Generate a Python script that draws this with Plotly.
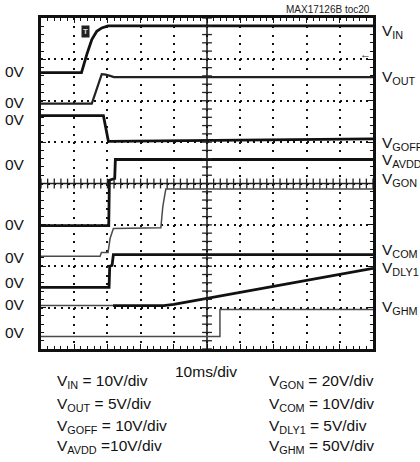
import numpy as np
import plotly.graph_objects as go

# Screen positions: time in ms (10 ms/div, 10 div), level in divisions (8 div)
vin_t = [0, 12.2, 13.8, 15.3, 16.8, 18.3, 20.2, 100]
vin_d = [6.68, 6.68, 7.12, 7.48, 7.68, 7.76, 7.81, 7.81]

vout_t = [0, 15.3, 18.3, 19.5, 20.8, 22, 100]
vout_d = [5.93, 5.93, 6.64, 6.63, 6.60, 6.57, 6.57]

vgoff_t = [0, 18.8, 20.3, 100]
vgoff_d = [5.64, 5.64, 5.02, 5.08]

vavdd_t = [0, 20.4, 20.6, 21.6, 22.2, 22.4, 100]
vavdd_d = [2.98, 2.98, 4.08, 4.10, 4.12, 4.58, 4.58]

vgon_t = [0, 17.8, 18.2, 20.2, 20.8, 21.8, 36.1, 36.7, 37.6, 100]
vgon_d = [2.24, 2.24, 2.33, 2.33, 2.67, 2.91, 2.93, 3.45, 3.87, 3.87]

vcom_t = [0, 20.5, 20.7, 21.4, 21.8, 100]
vcom_d = [1.49, 1.49, 2.00, 2.02, 2.28, 2.28]

vdly1_t = [0, 21.7, 37, 40, 100]
vdly1_d = [1.05, 1.05, 1.05, 1.08, 1.95]

vghm_t = [0, 53.9, 53.9, 100]
vghm_d = [0.30, 0.30, 0.955, 0.955]

right_labels = ["V<sub>IN</sub>", "V<sub>OUT</sub>", "V<sub>GOFF</sub>", "V<sub>AVDD</sub>",
                "V<sub>GON</sub>", "V<sub>COM</sub>", "V<sub>DLY1</sub>", "V<sub>GHM</sub>"]
right_label_y = [0.959, 0.820, 0.621, 0.569, 0.512, 0.298, 0.243, 0.125]

zero_label_y = [0.837, 0.745, 0.693, 0.556, 0.376, 0.276, 0.201, 0.134, 0.050]

scale_left = ["V<sub>IN</sub> = 10V/div", "V<sub>OUT</sub> = 5V/div",
              "V<sub>GOFF</sub> = 10V/div", "V<sub>AVDD</sub> =10V/div"]
scale_right = ["V<sub>GON</sub> = 20V/div", "V<sub>COM</sub> = 10V/div",
               "V<sub>DLY1</sub> = 5V/div", "V<sub>GHM</sub> = 50V/div"]
scale_rows_y = [-0.098, -0.169, -0.233, -0.296]

FONT = "Liberation Sans, Arial"

fig = go.Figure()

THICK = dict(color="#111111", width=2.8)
THIN = dict(color="#4a4a4a", width=1.5)

def add(t, d, line):
    fig.add_trace(go.Scatter(x=t, y=d, mode="lines", line=line, hoverinfo="skip"))

add(vghm_t, vghm_d, THIN)
add(vdly1_t[:2], vdly1_d[:2], THIN)
add(vdly1_t[1:], vdly1_d[1:], THICK)
add(vcom_t, vcom_d, THICK)
add(vgon_t, vgon_d, THIN)
add(vavdd_t, vavdd_d, THICK)
add(vgoff_t, vgoff_d, THICK)
add(vout_t, vout_d, dict(color="#222222", width=2.2))
add(vin_t, vin_d, THICK)

# centre cross-hair tick marks
cx = np.arange(0, 100.01, 2)
fig.add_trace(go.Scatter(x=cx, y=[4] * len(cx), mode="markers",
                         marker=dict(symbol="line-ns", size=7, line=dict(color="#222", width=1.3)),
                         hoverinfo="skip"))
cy = np.arange(0, 8.001, 0.2)
fig.add_trace(go.Scatter(x=[50] * len(cy), y=cy, mode="markers",
                         marker=dict(symbol="line-ew", size=7, line=dict(color="#222", width=1.3)),
                         hoverinfo="skip"))

fig.add_shape(type="line", x0=50, x1=50, y0=0, y1=8, line=dict(color="#222", width=1.6), layer="below")
fig.add_shape(type="line", x0=0, x1=100, y0=4, y1=4, line=dict(color="#222", width=1.6), layer="below")

ann = []
for txt, y in zip(right_labels, right_label_y):
    ann.append(dict(x=1.021, y=y, xref="paper", yref="paper", text=txt, showarrow=False,
                    xanchor="left", yanchor="middle", font=dict(family=FONT, size=15.5, color="#111")))
for y in zero_label_y:
    ann.append(dict(x=-0.042, y=y, xref="paper", yref="paper", text="0V", showarrow=False,
                    xanchor="right", yanchor="middle", font=dict(family=FONT, size=15.5, color="#111")))
for txt, y in zip(scale_left, scale_rows_y):
    ann.append(dict(x=0.042, y=y, xref="paper", yref="paper", text=txt, showarrow=False,
                    xanchor="left", yanchor="middle", font=dict(family=FONT, size=15.5, color="#111")))
for txt, y in zip(scale_right, scale_rows_y):
    ann.append(dict(x=0.680, y=y, xref="paper", yref="paper", text=txt, showarrow=False,
                    xanchor="left", yanchor="middle", font=dict(family=FONT, size=15.5, color="#111")))
ann.append(dict(x=0.497, y=-0.068, xref="paper", yref="paper", text="10ms/div", showarrow=False,
                xanchor="center", yanchor="middle", font=dict(family=FONT, size=15.5, color="#111")))
ann.append(dict(x=0.997, y=1.026, xref="paper", yref="paper", text="MAX17126B toc20", showarrow=False,
                xanchor="right", yanchor="middle", font=dict(family=FONT, size=10, color="#222")))
# trigger markers
ann.append(dict(x=13.55, y=7.68, xref="x", yref="y", text="<b>T</b>", showarrow=False,
                bgcolor="#222", borderpad=1, font=dict(family=FONT, size=8, color="#ddd")))
ann.append(dict(x=1.0, y=0.892, xref="paper", yref="paper", text="<b>←</b>", showarrow=False,
                xanchor="right", yanchor="middle", font=dict(family=FONT, size=11, color="#111")))

axis_common = dict(showline=True, linewidth=2.8, linecolor="#111", mirror="allticks",
                   ticks="inside", ticklen=5, tickcolor="#111", tickwidth=1.3,
                   showticklabels=False, zeroline=False, showgrid=True,
                   gridcolor="#111", gridwidth=2, fixedrange=True)

fig.update_xaxes(range=[0, 100], dtick=10, tick0=0, griddash="2px,6.275px",
                 minor=dict(dtick=2, ticks="inside", ticklen=3, tickcolor="#111", showgrid=False),
                 **axis_common)
fig.update_yaxes(range=[0, 8], dtick=1, tick0=0, griddash="2px,4.64px",
                 minor=dict(dtick=0.2, ticks="inside", ticklen=3, tickcolor="#111", showgrid=False),
                 **axis_common)

fig.update_layout(width=420, height=462, margin=dict(l=41, r=47, t=18, b=113),
                  paper_bgcolor="white", plot_bgcolor="white", showlegend=False,
                  annotations=ann)

fig.write_html("out.html", config={"displayModeBar": False},
               post_script="document.body.style.margin='0';document.body.style.overflow='hidden';")
